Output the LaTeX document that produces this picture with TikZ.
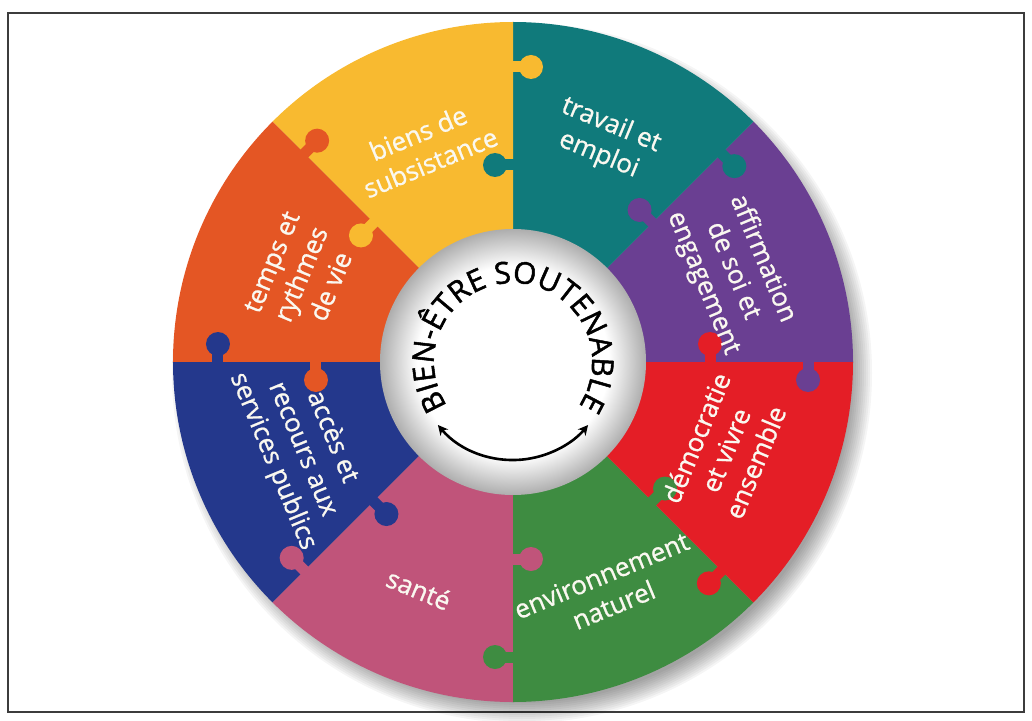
\documentclass[tikz,border=0pt]{standalone}
\usepackage{fontspec}
\setmainfont{Open Sans}
\newfontfamily\labfont{Open Sans}[FakeBold=0.9]
\newfontfamily\titlefont{Open Sans}[FakeBold=1.6]
\usetikzlibrary{decorations.text,arrows.meta}
\definecolor{cyellow}{RGB}{248,186,48}
\definecolor{cteal}{RGB}{16,122,123}
\definecolor{cpurple}{RGB}{106,63,146}
\definecolor{cred}{RGB}{228,30,38}
\definecolor{cgreen}{RGB}{62,140,65}
\definecolor{cpink}{RGB}{192,84,122}
\definecolor{cblue}{RGB}{36,56,140}
\definecolor{corange}{RGB}{228,86,36}
\definecolor{framegray}{RGB}{60,60,60}
\definecolor{labwhite}{RGB}{250,248,240}
\pgfdeclareradialshading{hubglow}{\pgfpoint{0bp}{0bp}}{color(0bp)=(white); color(18bp)=(white); color(25bp)=(black!32); color(50bp)=(black!32)}
\newcommand\ringsector[3]{\fill[#3] (0,0) -- (#1:340) arc[start angle=#1, end angle=#2, radius=340] -- cycle;}
\newcommand\puzzleknob[4]{%
  \begin{scope}[rotate=#1, yscale=#3]
    \fill[#4] (#2-5.5,-3) rectangle (#2+5.5,12);
    \fill[#4] (#2,18) circle[radius=12];
  \end{scope}}
\tikzset{
  lab/.style={text=labwhite, font=\labfont\fontsize{26}{32}\selectfont, align=center, inner sep=0pt},
}
\begin{document}
\begin{tikzpicture}[x=1pt,y=1pt]
\useasboundingbox (-513,-358) rectangle (519,362);
% frame
\draw[framegray, line width=1.3pt] (-505,-350) rectangle (511,349);
% soft drop shadow (bottom right)
\foreach \r in {350,348,...,330}{
  \fill[black, opacity=0.04] (9,-11) circle[radius=\r];
}
% sectors
\ringsector{0}{45}{cpurple}
\ringsector{45}{90}{cteal}
\ringsector{90}{135}{cyellow}
\ringsector{135}{180}{corange}
\ringsector{180}{225}{cblue}
\ringsector{225}{270}{cpink}
\ringsector{270}{315}{cgreen}
\ringsector{315}{360}{cred}
% puzzle knobs: outer knob of the sector at the larger angle, inner knob of the other
\puzzleknob{0}{295}{-1}{cpurple}   \puzzleknob{0}{197}{1}{cred}
\puzzleknob{45}{295}{-1}{cteal}    \puzzleknob{45}{197}{1}{cpurple}
\puzzleknob{90}{295}{-1}{cyellow}  \puzzleknob{90}{197}{1}{cteal}
\puzzleknob{135}{295}{-1}{corange} \puzzleknob{135}{197}{1}{cyellow}
\puzzleknob{180}{295}{-1}{cblue}   \puzzleknob{180}{197}{1}{corange}
\puzzleknob{225}{295}{-1}{cpink}   \puzzleknob{225}{197}{1}{cblue}
\puzzleknob{270}{295}{-1}{cgreen}  \puzzleknob{270}{197}{1}{cpink}
\puzzleknob{315}{295}{-1}{cred}    \puzzleknob{315}{197}{1}{cgreen}
% hub
\shade[shading=hubglow] (0,0) circle[radius=133];
% labels
\node[lab, rotate=22.5]  (biens)   at (112.5:232) {biens de\\subsistance};
\node[lab, rotate=-22.5] (travail) at (67.5:240)  {travail et\\emploi};
\node[lab, rotate=-67.5] (affirm)  at (22.5:238)  {affirmation\\de soi et\\engagement};
\node[lab, rotate=67.5]  (demo)    at (-22.5:230) {démocratie\\et vivre\\ensemble};
\node[lab, rotate=22.5]  (envir)   at (-67.5:247) {environnement\\naturel};
\node[lab, rotate=-22.5] (sante)   at (-112.5:246) {santé};
\node[lab, rotate=-67.5] (acces)   at (-157.5:228) {accès et\\recours aux\\services publics};
\node[lab, rotate=67.5]  (temps)   at (157.5:229) {temps et\\rythmes\\de vie};
% title around the hub
\path[decorate, decoration={text along path, text align=center,
  text={|\titlefont\fontsize{30}{30}\selectfont|BIEN-ÊTRE SOUTENABLE}}]
  (218:79) arc[start angle=218, end angle=-38, radius=79];
% double arrow
\coordinate (arrL) at (220:98);
\coordinate (arrR) at (320:98);
\draw[black, line width=2.6pt, {Stealth[length=10pt,width=10pt]}-{Stealth[length=10pt,width=10pt]}]
  (arrL) arc[start angle=220, end angle=320, radius=98];
\end{tikzpicture}
\end{document}
